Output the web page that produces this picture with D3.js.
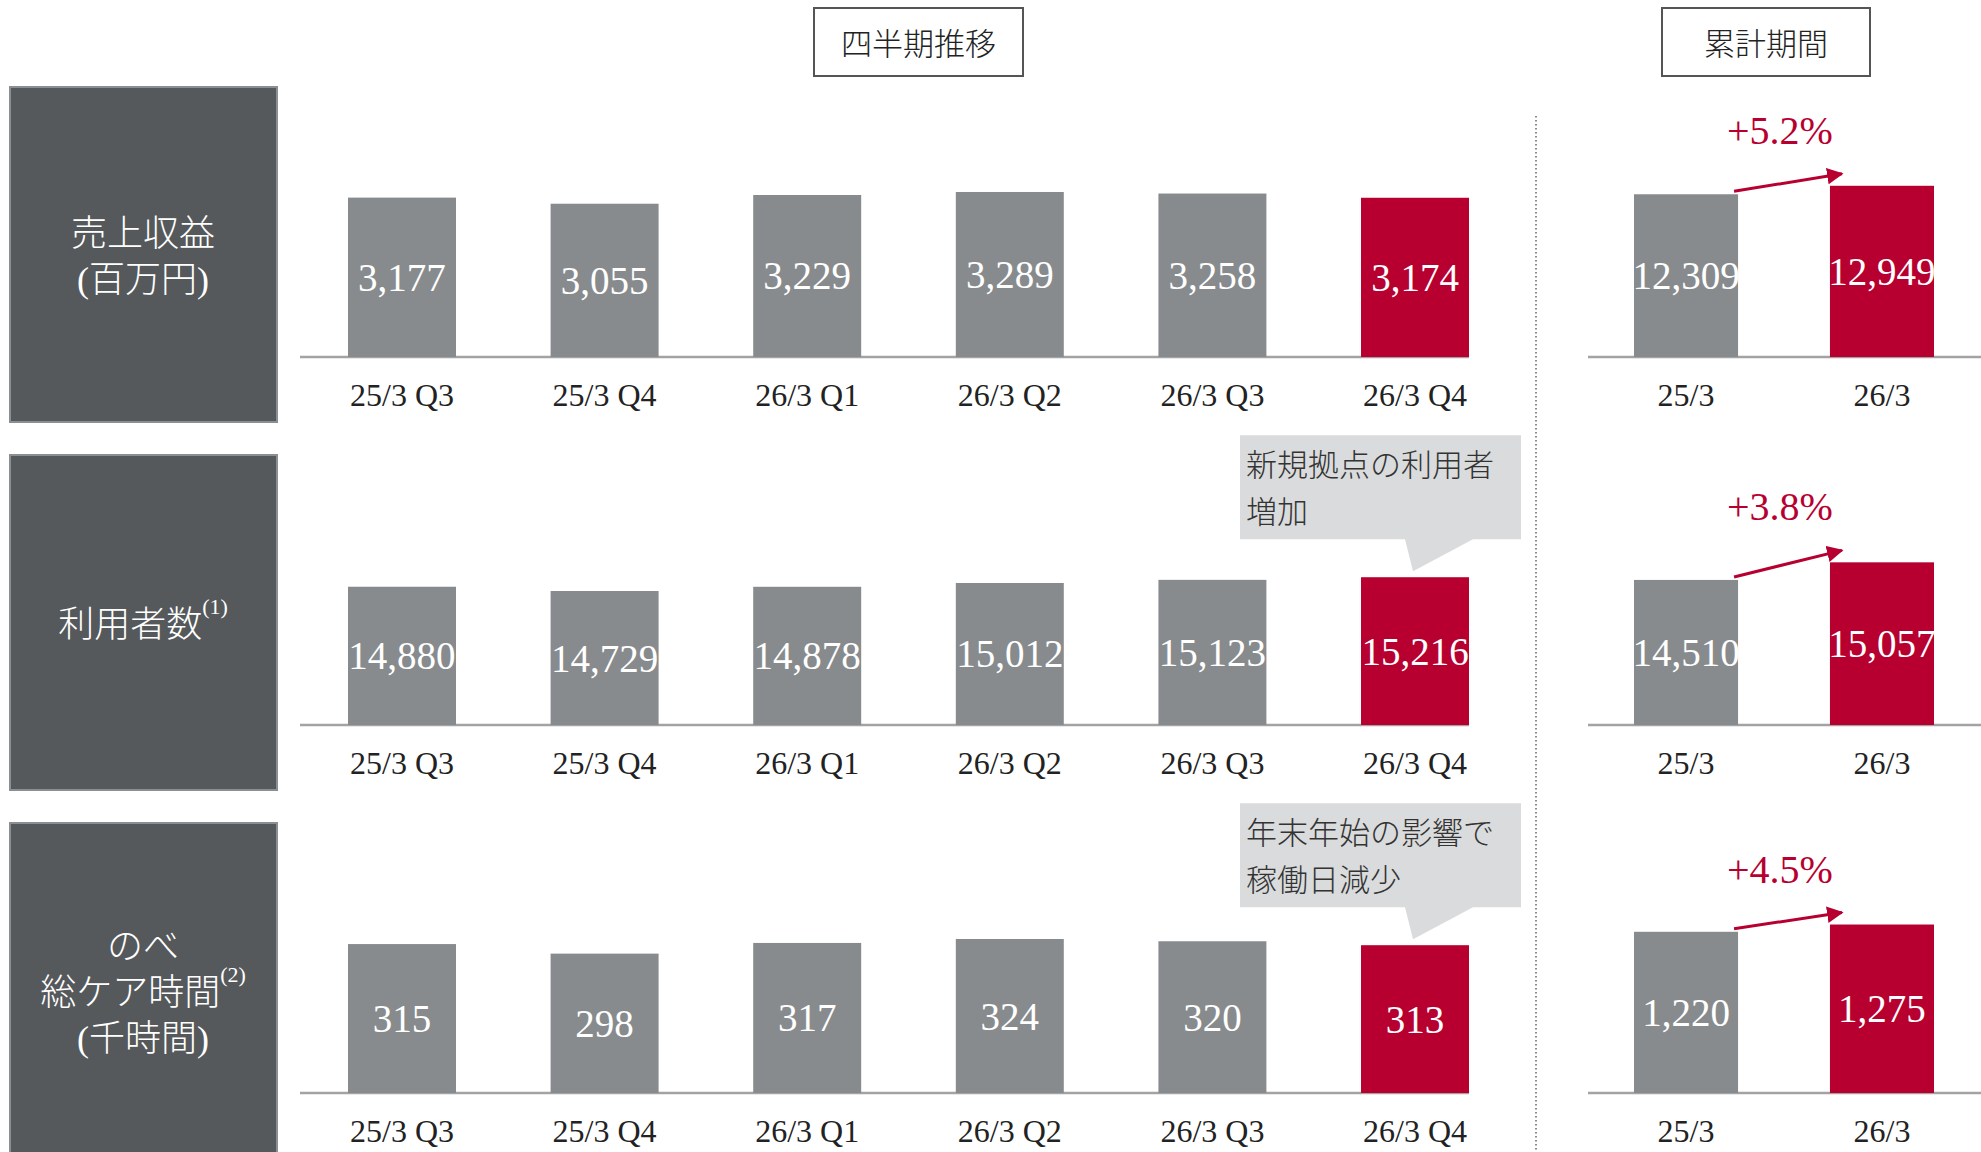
<!DOCTYPE html>
<meta charset="utf-8">
<style>
body { margin: 0; background: #fff; }
svg { display: block; }
.num { font-family: "Liberation Serif", "Times New Roman", serif; }
.jp { font-family: "Liberation Serif", "Noto Sans CJK JP", sans-serif; font-weight: 300; }
</style>
<svg width="1981" height="1152">
  <rect width="100%" height="100%" fill="white"/>
</svg>
<script src="https://cdn.jsdelivr.net/npm/d3@7"></script>
<script>

// ---- data ----
var quarters = ["25/3 Q3", "25/3 Q4", "26/3 Q1", "26/3 Q2", "26/3 Q3", "26/3 Q4"];
var periods = ["25/3", "26/3"];

var revenueQ = [3177, 3055, 3229, 3289, 3258, 3174];
var usersQ = [14880, 14729, 14878, 15012, 15123, 15216];
var careHoursQ = [315, 298, 317, 324, 320, 313];

var revenueCum = [12309, 12949];
var usersCum = [14510, 15057];
var careHoursCum = [1220, 1275];

var growth = ["+5.2%", "+3.8%", "+4.5%"];

var rowLabels = [["売上収益", "(百万円)"], ["利用者数"], ["のべ", "総ケア時間", "(千時間)"]];
var rowMarks = [null, [0, "(1)"], [1, "(2)"]];
var notes = [null, ["新規拠点の利用者", "増加"], ["年末年始の影響で", "稼働日減少"]];

var headers = ["四半期推移", "累計期間"];

// ---- layout ----
var svg = d3.select("svg");
var GRAY = "#888b8d", RED = "#b70030", DARK = "#55595b";

var xq = d3.scaleBand().domain(quarters).range([348, 1469]).paddingInner(0.467).paddingOuter(0);
var xc = d3.scaleBand().domain(periods).range([1634, 1934]).paddingInner(0.469).paddingOuter(0);

var rows = [
    {base: 357, q: revenueQ, qDom: [0, 3500], qH: 175.6, c: revenueCum, cDom: [0, 14000], cH: 185.1},
    {base: 725, q: usersQ, qDom: [10000, 16000], qH: 170, c: usersCum, cDom: [10000, 16000], cH: 193},
    {base: 1093, q: careHoursQ, qDom: [50, 350], qH: 168.6, c: careHoursCum, cDom: [0, 1400], cH: 185}
];

var fmt = d3.format(",");

// header boxes
var hdr = [[814, 1023], [1662, 1870]];
headers.forEach(function(h, i) {
    svg.append("rect")
        .attr("x", hdr[i][0]).attr("y", 8)
        .attr("width", hdr[i][1] - hdr[i][0]).attr("height", 68)
        .attr("fill", "white").attr("stroke", "#555").attr("stroke-width", 2);
    svg.append("text").attr("class", "jp")
        .attr("x", (hdr[i][0] + hdr[i][1]) / 2).attr("y", 44)
        .attr("text-anchor", "middle").attr("dominant-baseline", "central")
        .attr("font-size", 31).attr("fill", "#222")
        .text(h);
});

// dotted divider
svg.append("line")
    .attr("x1", 1536).attr("x2", 1536).attr("y1", 116).attr("y2", 1152)
    .attr("stroke", "#666").attr("stroke-width", 1.5)
    .attr("stroke-dasharray", "1.5 2.5");

// arrow marker
svg.append("defs").append("marker")
    .attr("id", "arrow")
    .attr("viewBox", "0 0 10 10")
    .attr("refX", 9).attr("refY", 5)
    .attr("markerWidth", 5.5).attr("markerHeight", 5.5)
    .attr("markerUnits", "strokeWidth")
    .attr("orient", "auto")
    .append("path").attr("d", "M0,0 L10,5 L0,10 z").attr("fill", RED);

rows.forEach(function(r, i) {
    var g = svg.append("g");
    var yq = d3.scaleLinear().domain(r.qDom).range([r.base, r.base - r.qH]);
    var yc = d3.scaleLinear().domain(r.cDom).range([r.base, r.base - r.cH]);

    // left label box
    g.append("rect")
        .attr("x", 10).attr("y", r.base - 270)
        .attr("width", 267).attr("height", i == 2 ? 400 : 335)
        .attr("fill", DARK).attr("stroke", "#8c8f91").attr("stroke-width", 2);

    var lines = rowLabels[i];
    var lh = 46;
    var cy = r.base - 100;
    lines.forEach(function(t, j) {
        var txt = g.append("text").attr("class", "jp")
            .attr("x", 143)
            .attr("y", cy + (j - (lines.length - 1) / 2) * lh)
            .attr("text-anchor", "middle").attr("dominant-baseline", "central")
            .attr("font-size", 36).attr("fill", "white");
        txt.append("tspan").text(t);
        if (rowMarks[i] && rowMarks[i][0] == j) {
            txt.append("tspan").attr("class", "num")
                .attr("dy", -19).attr("font-size", 22)
                .text(rowMarks[i][1]);
        }
    });

    // quarterly bars
    g.append("line")
        .attr("x1", 300).attr("x2", 1469).attr("y1", r.base).attr("y2", r.base)
        .attr("stroke", "#a3a3a3").attr("stroke-width", 2.5);

    g.selectAll(".qbar").data(r.q).enter().append("rect")
        .attr("x", function(d, k) { return xq(quarters[k]); })
        .attr("y", function(d) { return yq(d); })
        .attr("width", xq.bandwidth())
        .attr("height", function(d) { return r.base - yq(d); })
        .attr("fill", function(d, k) { return k == quarters.length - 1 ? RED : GRAY; });

    g.selectAll(".qval").data(r.q).enter().append("text").attr("class", "num")
        .attr("x", function(d, k) { return xq(quarters[k]) + xq.bandwidth() / 2; })
        .attr("y", function(d) { return (yq(d) + r.base) / 2; })
        .attr("text-anchor", "middle").attr("dominant-baseline", "central")
        .attr("font-size", 39).attr("fill", "white")
        .text(function(d) { return fmt(d); });

    var axq = g.append("g").attr("class", "num")
        .attr("transform", "translate(0," + r.base + ")")
        .call(d3.axisBottom(xq).tickSize(0).tickPadding(26));
    axq.select(".domain").remove();
    axq.selectAll("text").attr("font-size", 32).attr("fill", "#222")
        .attr("font-family", "Liberation Serif, serif");

    // cumulative bars
    g.append("line")
        .attr("x1", 1588).attr("x2", 1981).attr("y1", r.base).attr("y2", r.base)
        .attr("stroke", "#a3a3a3").attr("stroke-width", 2.5);

    g.selectAll(".cbar").data(r.c).enter().append("rect")
        .attr("x", function(d, k) { return xc(periods[k]); })
        .attr("y", function(d) { return yc(d); })
        .attr("width", xc.bandwidth())
        .attr("height", function(d) { return r.base - yc(d); })
        .attr("fill", function(d, k) { return k == 1 ? RED : GRAY; });

    g.selectAll(".cval").data(r.c).enter().append("text").attr("class", "num")
        .attr("x", function(d, k) { return xc(periods[k]) + xc.bandwidth() / 2; })
        .attr("y", function(d) { return (yc(d) + r.base) / 2; })
        .attr("text-anchor", "middle").attr("dominant-baseline", "central")
        .attr("font-size", 39).attr("fill", "white")
        .text(function(d) { return fmt(d); });

    var axc = g.append("g").attr("class", "num")
        .attr("transform", "translate(0," + r.base + ")")
        .call(d3.axisBottom(xc).tickSize(0).tickPadding(26));
    axc.select(".domain").remove();
    axc.selectAll("text").attr("font-size", 32).attr("fill", "#222")
        .attr("font-family", "Liberation Serif, serif");

    // growth arrow + label
    var t1 = yc(r.c[0]), t2 = yc(r.c[1]);
    g.append("line")
        .attr("x1", xc(periods[0]) + xc.bandwidth() - 4).attr("y1", t1 - 3)
        .attr("x2", xc(periods[1]) + 12).attr("y2", t2 - 12)
        .attr("stroke", RED).attr("stroke-width", 3)
        .attr("marker-end", "url(#arrow)");

    g.append("text").attr("class", "num")
        .attr("x", 1780).attr("y", t2 - 42)
        .attr("text-anchor", "middle")
        .attr("font-size", 40).attr("fill", RED)
        .text(growth[i]);

    // callout
    if (notes[i]) {
        var last = quarters[quarters.length - 1];
        var tipY = yq(r.q[r.q.length - 1]) - 6;
        var tipX = xq(last) + xq.bandwidth() / 2 - 2;
        var bottom = tipY - 32, top = bottom - 104;
        g.append("path")
            .attr("d", "M1240," + top + "H1521V" + bottom + "H" + (tipX + 60) +
                "L" + tipX + "," + tipY + "L" + (tipX - 8) + "," + bottom + "H1240Z")
            .attr("fill", "#d9dbdc");
        notes[i].forEach(function(t, j) {
            g.append("text").attr("class", "jp")
                .attr("x", 1246).attr("y", top + 30 + j * 47)
                .attr("dominant-baseline", "central")
                .attr("font-size", 31).attr("fill", "#333")
                .text(t);
        });
    }
});

</script>
